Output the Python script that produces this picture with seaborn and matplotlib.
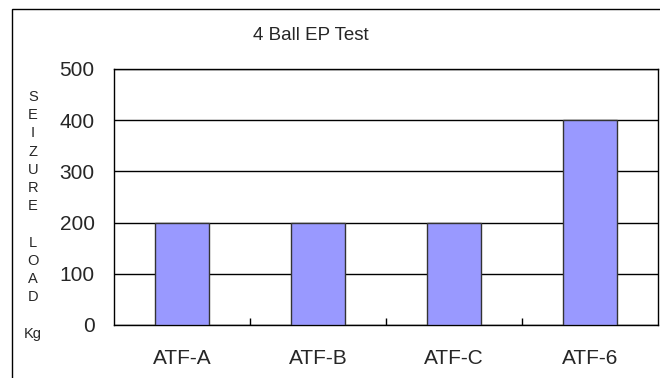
import matplotlib
matplotlib.use("Agg")
import matplotlib.pyplot as plt
import seaborn as sns
import pandas as pd
from matplotlib.patches import Rectangle
from matplotlib.ticker import FixedLocator

# Data
samples = ["ATF-A", "ATF-B", "ATF-C", "ATF-6"]
seizure_load = [200, 200, 200, 400]
y_ticks = [0, 100, 200, 300, 400, 500]
title = "4 Ball EP Test"
ylabel_lines = ["S", "E", "I", "Z", "U", "R", "E", "", "L", "O", "A", "D", "", "Kg"]

sns.set_style("white")
plt.rcParams["font.family"] = ["Liberation Sans", "DejaVu Sans"]

df = pd.DataFrame({"sample": samples, "load": seizure_load})

fig = plt.figure(figsize=(6.6, 3.78), dpi=100)
fig.patch.set_facecolor("white")

# Outer chart frame (extends past the right and bottom edges)
frame_top = 1 - 9 / 378
fig.patches.append(Rectangle((12 / 660, -0.1), 1.2, frame_top + 0.1,
                             transform=fig.transFigure, fill=False,
                             edgecolor="black", linewidth=1.0, zorder=0))

ax = fig.add_axes([114 / 660, 1 - 325 / 378, 544 / 660, 256 / 378])
ax.set_facecolor("white")

sns.barplot(data=df, x="sample", y="load", ax=ax, width=0.4,
            color="#9999FF", saturation=1, edgecolor="#333333",
            linewidth=1.0, zorder=3)

ax.set_ylim(0, 500)
ax.set_xlim(-0.5, len(samples) - 0.5)
ax.set_yticks(y_ticks)
ax.yaxis.grid(True, color="black", linewidth=1.0, zorder=0)
ax.set_axisbelow(True)
ax.xaxis.grid(False)

for s in ax.spines.values():
    s.set_visible(True)
    s.set_color("black")
    s.set_linewidth(1.0)

ax.tick_params(axis="y", length=0, pad=14, labelsize=15)
ax.tick_params(axis="x", which="major", length=0, pad=17.5, labelsize=15)
ax.xaxis.set_minor_locator(FixedLocator([0.5, 1.5, 2.5]))
ax.tick_params(axis="x", which="minor", direction="in", length=5,
               width=1.0, color="black", bottom=True)

ax.set_xlabel("")
ax.set_ylabel("")

fig.text(311 / 660, 1 - 36 / 378, title, ha="center", va="center", fontsize=13.5)

# Stacked vertical axis caption
y0, step = 97, 18.2
for i, ch in enumerate(ylabel_lines):
    if ch:
        fig.text(33 / 660, 1 - (y0 + i * step) / 378, ch,
                 ha="center", va="center", fontsize=10.5)

fig.savefig("out.png", dpi=100)
